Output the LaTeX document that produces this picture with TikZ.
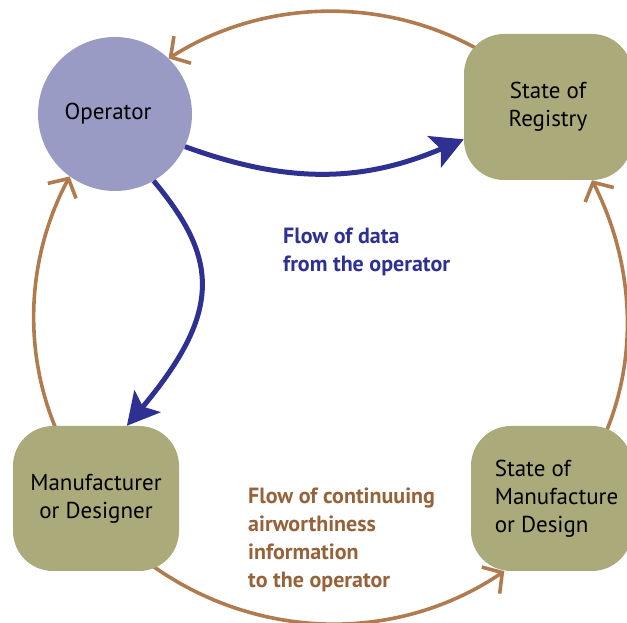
\documentclass[tikz,border=0pt]{standalone}
\usepackage{fontspec}
\setmainfont{PT Sans}
\usetikzlibrary{arrows.meta,calc}
\pgfdeclarelayer{bg}
\pgfsetlayers{bg,main}
\definecolor{opfill}{RGB}{154,155,196}
\definecolor{olive}{RGB}{171,170,122}
\definecolor{brownline}{RGB}{176,124,79}
\definecolor{browntext}{RGB}{150,98,58}
\definecolor{darkblue}{RGB}{46,49,146}
\tikzset{
  boxnode/.style={rectangle, rounded corners=40pt, fill=olive, inner sep=0pt,
    font=\fontsize{23}{28}\selectfont},
  opnode/.style={circle, fill=opfill, inner sep=0pt, minimum size=154pt,
    font=\fontsize{23}{28}\selectfont},
  brownarrow/.style={draw=brownline, line width=3.6pt,
    -{Straight Barb[length=14pt,width=32pt]}},
  bluearrow/.style={draw=darkblue, line width=5pt,
    -{Stealth[length=32pt,width=34pt,inset=7pt]}},
  lbl/.style={anchor=north west, inner sep=0pt, align=left,
    font=\fontsize{22}{28}\selectfont\bfseries}
}
\begin{document}
\begin{tikzpicture}[x=1pt,y=1pt]
\useasboundingbox (0,0) rectangle (627,623);
% nodes
\node[opnode] (op) at (115,509) {Operator\hspace*{14pt}};
\node[boxnode, minimum width=168pt, minimum height=146pt, align=center] (reg) at (548,516) {State of\\Registry};
\node[boxnode, minimum width=166pt, minimum height=145pt, align=center] (mfr) at (96,124.5) {Manufacturer\\or Designer};
\node[boxnode, minimum width=161pt, minimum height=145pt, align=left] (som) at (551.5,124.5) {\hspace*{10pt}State of\\\hspace*{10pt}Manufacture\\\hspace*{10pt}or Design};
% labels
\node[lbl, text=darkblue] (datalbl) at (283,395) {Flow of data\\from the operator};
\node[lbl, text=browntext] (infolbl) at (248,135) {Flow of continuuing\\airworthiness\\information\\to the operator};
% brown cycle arcs
\begin{pgfonlayer}{bg}
\draw[brownarrow] ($(reg.center)+(-57,50)$) .. controls +(148:116) and +(32.3:116) .. (op.46.6);
\draw[brownarrow] ($(mfr.center)+(-33,54)$) .. controls +(116:95) and +(242:95) .. (op.234);
\draw[brownarrow] ($(mfr.center)+(36,-51.5)$) .. controls +(320:139) and +(214:139) .. (som.237);
\draw[brownarrow] ($(som.center)+(46,48)$) .. controls +(63:95) and +(297:95) .. (reg.301);
\end{pgfonlayer}
% blue data arrows
\draw[bluearrow] (op.335) .. controls +(-20:110) and +(203:110) .. (reg.201);
\draw[bluearrow] (op.300) .. controls +(-50:100) and +(50:150) .. (mfr.67);
\end{tikzpicture}
\end{document}
